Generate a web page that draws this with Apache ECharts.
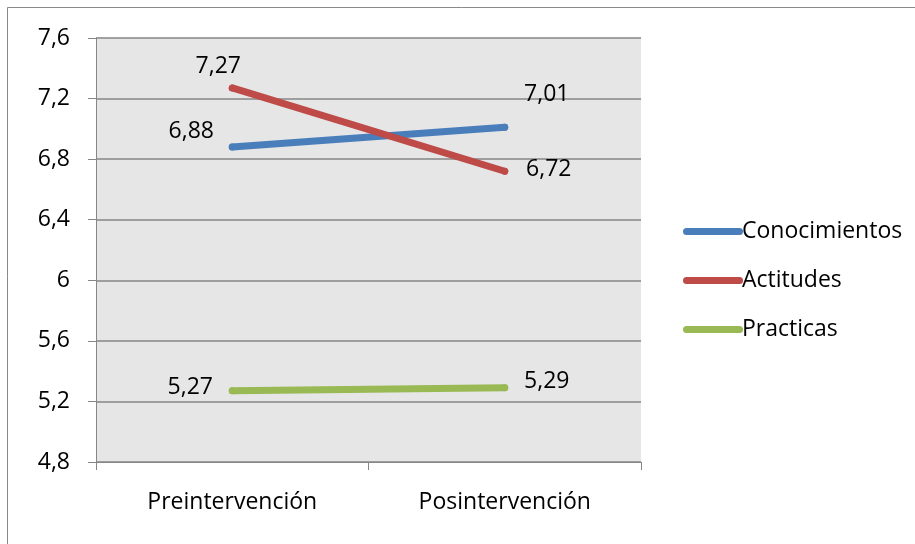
<!DOCTYPE html>
<html>
<head>
<meta charset="utf-8">
<script src="https://cdn.jsdelivr.net/npm/echarts@6/dist/echarts.min.js"></script>
<style>html,body{margin:0;padding:0;background:#fff}#c{width:915px;height:544px}</style>
</head>
<body>
<div id="c"></div>
<script>
const categories = ['Preintervención', 'Posintervención'];
const seriesNames = ['Conocimientos', 'Actitudes', 'Practicas'];
const conocimientos = [6.88, 7.01];
const actitudes = [7.27, 6.72];
const practicas = [5.27, 5.29];
const yTicks = [4.8, 5.2, 5.6, 6, 6.4, 6.8, 7.2, 7.6];

const colors = ['#4a7ebb', '#be4b48', '#98b954'];
// label offsets per series per point (styling)
const labelOffsets = [
  [[-41, -16], [42, -33]],
  [[-14, -22], [44, -2]],
  [[-42, -3], [42, -6]]
];
const FONT = 'Open Sans';
const fmt = v => String(Math.round(v * 100) / 100).replace('.', ',');

const chart = echarts.init(document.getElementById('c'), null, {renderer: 'canvas'});
const values = [conocimientos, actitudes, practicas];
const series = values.map((vals, si) => ({
  name: seriesNames[si],
  type: 'line',
  data: vals.map((v, i) => ({
    value: v,
    label: {offset: labelOffsets[si][i]}
  })),
  symbol: 'circle',
  symbolSize: 7,
  showSymbol: true,
  itemStyle: {color: colors[si]},
  lineStyle: {color: colors[si], width: 7, cap: 'round'},
  label: {
    show: true,
    position: 'inside',
    align: 'center',
    verticalAlign: 'middle',
    color: '#000',
    fontFamily: FONT,
    fontSize: 23,
    formatter: p => fmt(p.value)
  },
  emphasis: {disabled: true},
  animation: false
}));

chart.setOption({
  animation: false,
  graphic: [{
    type: 'rect',
    shape: {x: 7.5, y: 7.5, width: 1000, height: 1000},
    style: {fill: 'none', stroke: '#888', lineWidth: 1},
    silent: true
  }],
  grid: {
    left: 96, top: 38, right: 274, bottom: 82,
    show: true, backgroundColor: '#e6e6e6', borderWidth: 0
  },
  legend: {
    orient: 'vertical',
    left: 678, top: 215,
    itemWidth: 60, itemHeight: 7, itemGap: 26,
    icon: 'path://M3.5,0 L56.5,0 A3.5,3.5 0 0 1 56.5,7 L3.5,7 A3.5,3.5 0 0 1 3.5,0 Z',
    textStyle: {fontFamily: FONT, fontSize: 23, color: '#000', lineHeight: 23, padding: [0, 0, 0, -6]},
    data: seriesNames
  },
  xAxis: {
    type: 'category',
    data: categories,
    boundaryGap: true,
    axisLine: {lineStyle: {color: '#868686', width: 1}},
    axisTick: {show: true, length: 8, lineStyle: {color: '#868686'}},
    axisLabel: {fontFamily: FONT, fontSize: 23, color: '#000', margin: 29}
  },
  yAxis: {
    type: 'value',
    min: yTicks[0],
    max: yTicks[yTicks.length - 1],
    interval: 0.4,
    axisLine: {show: true, lineStyle: {color: '#868686', width: 1}},
    axisTick: {show: true, length: 8, lineStyle: {color: '#868686'}},
    splitLine: {show: true, lineStyle: {color: '#868686', width: 1.5}},
    axisLabel: {
      fontFamily: FONT, fontSize: 23, color: '#000', margin: 26,
      formatter: v => fmt(v)
    }
  },
  series: series
});
</script>
</body>
</html>
